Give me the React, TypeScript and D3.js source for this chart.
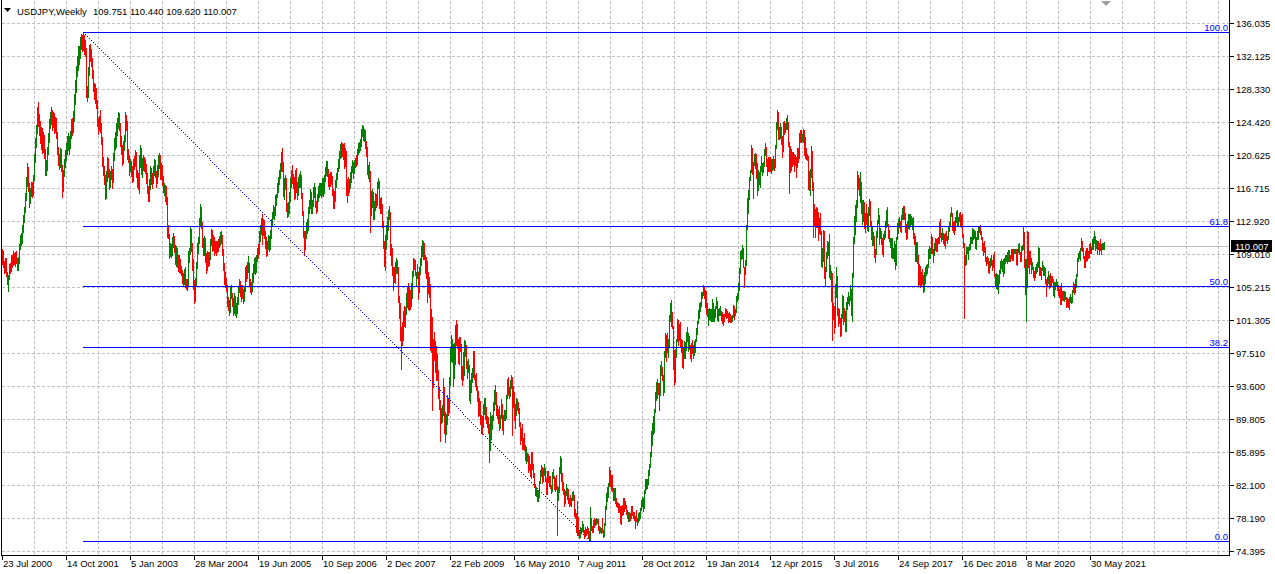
import React, { useMemo } from 'react';
import * as d3 from 'd3';

// Weekly USDJPY bars: [close, high, low]; open = previous close
type Bar = [number, number, number];

const firstOpen = 109.2;
const seriesStart = new Date(2000, 6, 23);

const y2000: Bar[] = [
[108.6,109.7,107.9],[108.0,109.4,107.5],[107.3,108.3,106.9],[108.2,108.6,107.0],[106.8,108.6,106.5],[105.8,107.0,105.6],[106.4,106.6,104.8],[107.6,107.9,106.1],[107.3,108.0,106.8],[108.4,108.9,107.1],
[108.0,108.9,107.6],[108.9,109.4,107.8],[108.4,109.2,107.9],[109.0,109.3,107.7],[108.3,109.4,108.0],[107.5,108.6,107.2],[108.2,108.7,107.2],[109.9,110.2,108.0],[111.0,111.3,109.6],[110.6,111.5,110.1],
[112.0,112.4,110.3],[113.2,113.6,111.6],[114.3,114.6,112.8],[115.8,116.2,114.0]];
const y2001: Bar[] = [
[117.2,118.0,115.4],[118.9,119.7,117.0],[116.9,119.2,116.4],[115.6,117.3,114.5],[116.2,116.8,115.0],[116.8,117.5,115.8],[116.4,117.5,115.7],[117.9,118.3,116.0],[120.3,120.8,117.7],[122.0,122.6,119.8],
[123.5,124.1,121.6],[125.6,126.2,123.2],[124.8,126.8,124.0],[123.7,125.4,123.0],[122.6,124.6,122.0],[123.4,123.9,121.3],[121.6,123.8,120.9],[122.8,123.3,121.0],[121.0,123.0,120.3],[118.9,121.3,118.3],
[119.2,120.0,118.3],[121.2,121.6,118.9],[122.6,123.2,120.8],[124.2,124.8,122.2],[124.9,125.6,123.8],[125.5,126.2,124.2],[124.2,125.9,123.6],[125.0,125.6,123.9],[123.7,125.5,123.2],[124.6,125.1,123.3],
[123.1,124.9,122.6],[121.2,123.3,120.7],[120.4,121.6,119.5],[119.4,120.8,119.0],[121.0,121.5,119.2],[119.2,121.3,118.8],[116.9,119.4,115.7],[118.4,118.9,116.4],[119.6,120.2,118.2],[120.6,121.2,119.2],
[121.5,122.0,120.0],[122.3,122.9,120.8],[122.5,123.2,121.2],[121.6,122.9,120.8],[122.9,123.4,121.4],[124.3,124.8,122.6],[123.6,125.0,123.0],[124.9,125.8,123.3],[127.2,127.7,124.6],[128.4,129.4,126.6],
[130.6,131.0,128.0],[131.5,132.2,129.9]];
const y2002: Bar[] = [
[132.6,133.4,130.6],[132.3,133.3,131.3],[133.8,134.4,131.9],[134.4,134.8,133.0],[133.6,134.6,132.8],[134.2,135.0,132.9],[133.9,134.6,132.4],[132.9,134.0,132.2],[128.0,133.1,127.4],[127.4,128.7,126.9],
[130.3,130.9,127.5],[132.7,133.5,130.0],[132.4,133.6,131.6],[131.6,133.0,131.0],[130.0,131.9,129.6],[128.6,130.5,128.1],[128.0,129.0,127.2],[128.2,128.9,126.7],[126.6,128.5,126.1],[124.5,127.0,124.0],
[123.9,125.0,123.1],[124.4,125.2,123.5],[124.0,125.9,123.3],[122.4,124.4,121.9],[119.6,122.7,119.3],[118.8,120.4,118.3],[118.0,119.3,117.2],[116.0,118.3,115.5],[118.2,118.8,115.6],[120.0,120.4,117.6],
[118.6,120.3,118.1],[117.2,119.0,116.6],[118.3,118.8,116.9],[118.8,119.3,117.8],[117.9,119.0,116.8],[120.4,120.9,117.5],[122.1,122.6,120.0],[122.6,123.3,121.3],[123.6,124.4,121.6],[124.5,124.9,123.0],
[125.0,125.6,123.8],[124.0,125.5,123.5],[122.2,124.4,121.7],[121.4,122.8,120.8],[120.0,121.8,119.4],[121.7,122.3,119.7],[122.5,123.0,121.2],[124.8,125.7,122.3],[124.1,125.3,123.5],[120.6,124.6,120.2],
[120.5,121.3,119.8],[118.8,120.6,118.3]];
const y2003: Bar[] = [
[119.6,120.2,118.7],[118.9,119.9,118.2],[118.0,119.3,117.5],[119.9,120.2,117.6],[119.6,120.5,119.0],[121.0,121.2,119.3],[118.4,121.0,118.0],[117.8,118.9,116.9],[117.0,118.5,116.6],[119.8,120.6,116.2],
[121.4,121.8,119.2],[118.9,121.4,118.4],[119.6,120.3,118.0],[120.0,120.6,118.9],[119.4,120.4,118.8],[118.9,120.2,118.5],[117.9,119.6,117.4],[116.9,118.5,116.2],[115.8,117.0,115.2],[117.3,117.8,115.3],
[118.9,119.3,116.6],[117.9,119.1,117.2],[117.4,118.5,116.8],[118.7,119.3,117.3],[119.8,120.2,118.3],[118.5,120.0,118.0],[117.6,118.8,116.9],[118.8,119.4,117.3],[119.9,120.6,118.2],[120.3,120.9,119.1],
[118.3,120.6,117.8],[119.2,119.7,117.8],[117.5,119.5,117.1],[116.7,118.2,116.3],[116.7,117.3,115.9],[116.4,117.1,115.3],[115.5,117.0,114.9],[111.6,115.7,111.1],[111.4,112.5,110.9],[109.1,111.3,108.6],
[109.8,110.4,108.8],[109.6,110.2,108.7],[110.2,111.0,108.9],[111.1,111.5,109.9],[109.8,111.2,109.3],[108.5,110.1,107.9],[109.7,110.0,107.7],[108.2,109.8,107.6],[107.9,108.9,107.1],[108.1,108.9,107.0],
[107.4,108.5,106.9],[106.9,107.7,106.6]];
const y2004: Bar[] = [
[106.2,107.2,105.7],[106.0,106.9,105.3],[106.9,107.3,105.6],[105.6,107.6,105.2],[105.4,106.1,105.0],[105.5,106.2,104.9],[109.0,109.4,105.4],[109.4,109.8,108.1],[111.5,112.2,109.1],[109.9,112.0,109.4],
[107.8,110.3,107.2],[105.6,108.5,105.0],[104.2,106.0,103.4],[105.7,106.3,103.6],[107.6,108.1,105.3],[109.8,110.3,107.4],[110.7,111.0,109.2],[112.8,113.3,110.4],[114.3,114.9,112.3],[112.6,114.6,112.1],
[110.4,112.8,109.9],[109.4,110.9,108.9],[110.6,111.2,108.9],[108.6,110.9,108.1],[107.4,109.2,106.9],[108.9,109.4,107.2],[108.4,109.3,107.7],[108.8,109.3,107.8],[110.4,110.8,108.5],[111.6,112.0,110.1],
[110.0,111.9,109.4],[110.9,111.3,109.5],[109.6,111.1,109.0],[109.9,110.6,109.2],[109.7,110.6,109.0],[110.2,110.6,109.3],[110.0,110.8,109.4],[110.8,111.2,109.9],[111.3,111.6,110.1],[110.9,111.7,110.3],
[109.5,111.3,108.9],[107.8,109.7,107.2],[106.2,108.0,105.6],[106.0,107.0,105.2],[105.3,106.3,104.8],[103.5,105.5,103.0],[103.2,104.0,102.5],[102.5,103.7,102.0],[104.6,105.3,102.3],[104.2,105.5,103.9],
[103.6,104.5,103.0],[102.7,103.9,101.9]];
const y2005: Bar[] = [
[104.1,104.5,102.2],[102.3,104.2,101.9],[102.6,103.4,101.7],[103.7,104.1,102.2],[104.9,105.3,103.2],[105.6,106.1,104.6],[104.6,105.9,104.2],[104.8,105.5,103.6],[104.3,105.4,103.9],[104.0,105.0,103.3],
[104.9,105.3,103.6],[107.4,107.6,104.7],[106.4,107.8,105.9],[107.5,108.1,106.3],[107.8,108.8,107.0],[106.0,108.0,105.5],[104.9,106.2,104.6],[105.0,105.8,104.4],[106.2,106.8,104.8],[107.4,107.9,105.8],
[108.2,108.6,106.9],[107.6,108.7,106.7],[108.4,108.9,107.0],[109.4,109.8,108.2],[109.3,110.2,108.6],[111.4,111.7,109.1],[112.1,112.5,110.6],[112.4,113.3,111.4],[111.9,113.7,110.2],[112.8,113.2,111.3],
[111.4,113.0,110.9],[110.3,111.8,109.8],[110.2,111.0,108.8],[109.9,110.6,109.0],[110.9,111.3,109.7],[109.9,111.2,109.4],[111.5,111.9,109.6],[112.7,113.1,110.9],[113.7,114.0,112.4],[113.9,114.8,113.3],
[114.0,114.6,113.2],[115.4,115.9,113.6],[115.8,116.1,114.8],[116.8,117.3,115.7],[117.6,118.1,116.3],[118.5,118.9,117.2],[119.2,119.7,117.9],[120.5,121.0,118.8],[119.2,121.4,118.8],[116.2,119.8,115.8],
[117.4,117.9,115.5],[117.8,118.3,116.7]];
const y2006: Bar[] = [
[114.4,117.9,114.1],[114.2,115.0,113.4],[114.6,115.1,113.5],[115.7,116.3,113.9],[117.5,117.9,115.2],[118.5,118.9,116.9],[117.8,119.4,117.3],[117.7,118.4,116.8],[115.9,118.1,115.5],[118.5,118.9,115.6],
[116.8,119.1,116.3],[116.4,117.5,115.5],[117.7,118.1,116.0],[117.6,118.4,116.9],[118.0,118.7,116.9],[116.0,118.3,115.6],[114.0,116.2,113.6],[111.6,114.1,111.0],[110.2,111.8,109.0],[111.3,111.7,109.6],
[112.3,112.8,110.9],[112.2,113.1,111.5],[114.2,114.6,111.9],[114.6,115.4,113.8],[116.1,116.6,114.4],[114.4,116.3,113.8],[114.9,115.4,113.9],[116.4,116.9,114.7],[116.4,117.4,115.7],[114.9,116.9,114.6],
[114.4,115.3,113.8],[115.7,116.1,114.1],[116.6,117.0,115.2],[116.6,117.3,115.7],[117.0,117.4,115.9],[116.2,117.4,115.7],[117.4,117.9,115.9],[116.3,117.9,115.8],[117.9,118.3,116.2],[118.8,119.2,117.6],
[119.6,119.9,118.3],[118.6,119.9,118.2],[117.5,119.0,117.0],[117.9,118.4,116.6],[117.7,118.6,117.0],[118.1,118.6,117.2],[116.4,118.2,116.0],[115.6,116.6,114.4],[115.5,116.4,114.4],[117.3,117.7,115.3],
[118.1,118.5,116.9],[118.8,119.1,117.8],[120.0,120.2,118.7]];
const y2007: Bar[] = [
[120.8,121.1,119.1],[121.0,121.9,120.3],[121.4,122.2,120.4],[121.2,122.0,120.5],[121.1,121.9,120.1],[119.5,122.0,119.1],[121.0,121.5,119.3],[116.4,121.1,115.9],[117.0,117.8,115.1],[116.5,118.1,116.0],
[117.4,117.8,116.3],[117.8,118.6,116.8],[118.9,119.3,117.5],[119.7,120.0,118.6],[118.6,119.8,117.9],[119.7,120.0,118.5],[120.0,120.3,119.2],[119.8,120.6,119.3],[121.0,121.3,119.6],[121.6,122.0,120.7],
[121.7,122.2,121.0],[121.8,122.5,121.2],[123.4,123.7,121.7],[123.8,124.1,122.9],[123.2,124.0,122.4],[123.2,123.7,122.3],[121.9,123.5,121.4],[121.4,122.3,120.5],[118.7,121.6,118.4],[118.9,119.5,117.9],
[118.5,119.8,117.6],[114.0,118.7,111.6],[115.9,116.4,113.6],[115.9,116.7,114.6],[113.6,116.3,113.1],[114.8,115.2,113.2],[115.5,116.2,114.2],[114.8,116.1,114.5],[117.3,117.5,114.9],[117.6,117.9,116.8],
[114.9,117.6,114.4],[114.6,115.6,113.9],[114.6,115.7,113.9],[112.7,114.9,112.2],[110.6,112.9,109.8],[108.2,110.6,107.7],[111.0,111.3,107.2],[111.6,112.4,109.6],[112.6,113.4,110.8],[113.5,114.2,111.9],
[113.8,114.7,113.1],[109.2,114.0,108.9]];
const y2008: Bar[] = [
[109.3,110.2,107.8],[106.9,109.8,106.6],[106.7,107.6,104.9],[106.6,107.5,105.8],[107.8,108.1,105.7],[108.2,108.6,106.9],[107.6,108.4,106.9],[103.7,107.6,103.5],[102.5,104.2,101.6],[99.7,103.4,99.0],
[99.7,100.5,95.7],[99.6,101.1,98.5],[101.8,102.4,99.0],[101.5,103.0,100.7],[102.5,102.9,100.6],[103.9,104.5,102.1],[105.2,105.3,102.9],[103.0,105.7,102.7],[104.6,105.2,102.5],[103.2,104.9,102.6],
[105.5,105.7,103.0],[106.9,107.1,103.9],[108.3,108.6,106.5],[107.7,108.5,107.3],[106.8,108.4,106.6],[106.9,107.0,105.5],[106.9,107.9,106.3],[104.8,107.0,103.8],[107.0,107.6,104.6],[108.0,108.6,106.7],
[109.4,110.0,107.8],[110.4,110.7,108.8],[110.4,110.6,108.5],[108.8,110.0,108.5],[107.9,108.9,106.9],[107.8,108.7,106.3],[106.9,108.3,103.5],[105.2,107.0,104.5],[105.4,106.4,104.0],[101.7,105.6,97.9],
[101.7,102.7,97.6],[94.0,101.4,90.9],[98.5,99.2,93.5],[98.1,100.0,96.7],[97.0,98.9,95.3],[95.6,98.3,94.4],[95.4,97.4,94.3],[93.2,95.5,92.3],[91.5,93.5,91.0],[89.8,92.0,87.2],
[90.3,91.1,89.3],[90.9,91.4,89.5]];
const y2009: Bar[] = [
[92.8,94.6,90.3],[90.2,93.5,88.2],[88.9,90.6,87.1],[89.8,90.4,88.0],[92.1,92.6,89.2],[90.9,92.2,90.3],[94.2,94.7,90.6],[97.7,98.2,93.8],[98.3,99.6,96.6],[98.3,99.2,96.5],
[94.6,98.6,93.6],[97.8,98.7,95.3],[100.4,100.8,96.2],[99.9,101.4,98.4],[99.0,100.9,98.1],[96.8,99.2,96.3],[98.9,99.4,96.2],[98.6,99.4,97.8],[95.2,98.5,94.5],[94.9,96.0,93.8],
[95.2,97.6,94.4],[98.5,99.0,95.0],[98.1,98.9,97.2],[96.3,98.4,95.8],[95.3,96.6,94.6],[95.8,96.8,95.3],[92.6,96.1,92.0],[94.0,94.4,91.7],[94.6,95.2,92.9],[95.4,95.8,94.1],
[97.5,97.8,94.7],[94.9,97.7,94.5],[94.4,95.0,93.6],[93.6,95.2,93.2],[93.0,93.7,91.9],[90.9,93.1,90.2],[91.2,92.2,90.3],[89.7,91.9,89.2],[89.8,90.3,88.2],[89.7,90.1,88.0],
[91.2,91.6,88.9],[92.0,92.3,90.4],[90.1,92.3,89.8],[89.9,91.2,89.3],[89.6,90.2,88.9],[88.9,90.0,88.2],[86.6,89.2,84.8],[90.0,90.6,86.2],[89.1,90.2,87.5],[89.9,90.3,88.6],
[91.5,91.8,89.7],[92.9,93.2,90.8]];
const y2010: Bar[] = [
[92.6,93.8,91.6],[90.7,92.9,90.3],[90.3,91.4,89.9],[89.8,91.0,89.3],[89.3,91.3,88.5],[89.9,90.3,88.8],[91.5,92.1,89.9],[89.2,91.5,88.5],[90.1,90.3,88.1],[90.4,90.8,89.7],
[90.2,90.9,89.7],[92.5,92.6,89.9],[94.2,94.5,92.3],[93.2,94.7,92.6],[92.6,93.5,92.2],[94.2,94.4,92.5],[94.0,94.9,93.4],[91.6,94.7,87.9],[92.6,93.6,91.2],[90.0,93.0,89.7],
[90.9,91.6,88.8],[91.9,92.3,90.3],[91.7,92.1,90.8],[90.7,91.8,90.5],[89.2,91.1,89.0],[87.8,89.4,86.9],[88.6,88.8,87.3],[86.7,89.2,86.3],[87.5,87.6,86.3],[86.5,88.2,86.2],
[85.4,86.8,85.0],[85.6,86.5,84.7],[85.6,85.8,84.9],[85.3,85.7,83.6],[84.3,85.5,83.8],[83.9,84.5,83.2],[85.9,85.9,82.9],[84.2,85.9,84.0],[83.3,84.5,83.0],[82.0,83.5,81.9],
[81.4,82.2,80.9],[81.4,81.9,80.8],[80.4,81.5,80.2],[81.3,81.5,80.2],[82.5,82.6,80.7],[83.6,83.8,82.3],[84.1,84.4,83.2],[82.6,84.2,82.3],[83.8,84.1,82.6],[84.0,84.5,83.3],
[82.8,84.1,82.6],[81.1,82.9,81.0]];
const y2011: Bar[] = [
[83.2,83.7,81.0],[82.9,83.7,82.4],[82.5,83.1,82.0],[82.1,83.2,81.8],[81.7,82.0,81.2],[83.4,83.6,81.4],[83.1,84.0,82.9],[81.7,83.2,81.6],[82.3,82.9,81.4],[81.9,83.3,81.6],
[80.6,82.0,76.3],[81.5,81.9,80.3],[84.0,84.2,81.3],[84.7,85.5,83.5],[83.0,85.3,82.6],[81.8,83.5,81.5],[81.2,82.4,81.0],[80.6,81.6,79.6],[81.0,81.4,80.0],[81.6,82.2,80.9],
[80.9,81.8,80.5],[80.3,81.6,80.0],[80.2,80.6,79.7],[80.0,80.9,79.8],[80.4,80.6,79.7],[80.7,81.3,80.3],[80.6,81.4,80.3],[79.1,80.9,78.5],[78.5,79.3,78.3],[76.8,78.8,76.6],
[78.4,80.2,76.3],[76.8,78.4,76.3],[76.5,76.9,75.9],[76.7,77.2,76.0],[76.8,77.1,76.5],[77.5,77.9,76.7],[76.8,77.5,76.6],[76.3,76.9,75.9],[77.0,77.2,76.1],[76.7,77.0,76.3],
[77.0,77.3,76.5],[76.7,77.1,75.9],[75.8,76.6,75.6],[78.0,79.5,75.56],[77.0,78.2,76.8],[76.9,77.3,76.6],[77.7,78.0,76.6],[77.6,78.3,77.2],[77.7,78.1,77.4],[77.8,78.2,77.5],
[78.0,78.1,77.7],[76.9,78.1,76.8]];
const y2012: Bar[] = [
[76.8,77.3,76.5],[76.9,77.2,76.6],[77.0,77.1,76.5],[76.7,78.3,76.6],[76.2,76.8,76.0],[77.5,77.7,76.2],[79.5,79.6,77.4],[81.2,81.2,79.3],[81.6,81.9,80.2],[82.0,82.3,80.7],
[83.4,84.2,82.0],[82.4,83.8,82.0],[82.9,83.3,81.5],[81.5,83.3,81.4],[80.8,81.8,80.3],[81.5,81.8,80.3],[80.3,81.7,80.0],[79.9,80.6,79.6],[79.9,80.1,79.5],[79.1,80.0,79.0],
[79.7,79.9,78.9],[78.4,79.7,77.7],[79.5,79.7,77.6],[78.7,79.8,78.6],[80.4,80.6,78.7],[79.8,80.6,79.1],[79.7,80.2,79.4],[78.9,79.8,78.7],[78.5,79.2,78.3],[78.5,78.9,77.9],
[78.4,78.9,77.9],[78.3,78.8,78.0],[79.6,79.7,78.2],[78.7,79.7,78.6],[78.3,78.9,78.2],[78.2,78.9,78.0],[78.4,78.5,77.1],[78.0,79.2,77.9],[77.9,78.2,77.4],[78.6,78.8,77.8],
[78.5,78.9,78.0],[79.3,79.4,78.3],[79.8,80.3,79.2],[80.4,80.7,79.6],[79.5,80.6,79.1],[81.3,81.5,79.4],[82.4,82.8,81.2],[82.5,82.8,81.6],[82.4,82.8,81.7],[83.5,83.9,82.2],
[84.3,84.6,83.3],[85.5,85.9,84.2],[88.1,88.4,85.8]];
const y2013: Bar[] = [
[89.2,89.3,86.8],[90.1,90.2,88.0],[90.8,91.0,88.3],[92.8,92.9,90.6],[93.6,94.1,92.0],[93.5,94.5,92.3],[93.4,94.0,92.7],[93.6,94.0,90.9],[96.0,96.1,92.6],[95.2,96.6,95.0],
[94.5,95.9,94.4],[94.2,94.9,92.6],[97.6,97.8,92.9],[99.6,99.9,97.0],[98.0,99.0,96.6],[98.0,99.9,97.6],[99.0,99.2,97.1],[101.6,101.9,98.2],[103.2,103.3,101.3],[101.0,103.7,100.7],
[100.5,102.3,100.4],[97.5,100.7,95.6],[94.1,97.9,93.8],[97.9,98.0,94.1],[99.1,99.2,97.1],[101.2,101.5,98.9],[99.6,101.4,98.5],[100.7,100.9,99.0],[98.3,101.1,98.2],[98.9,99.1,97.6],
[96.3,99.0,95.9],[97.6,98.2,95.8],[98.7,98.9,96.9],[98.1,98.8,96.9],[99.6,100.0,97.9],[99.4,100.6,98.9],[99.4,99.8,97.8],[98.3,99.5,98.0],[97.5,98.5,96.9],[98.6,98.7,96.6],
[97.7,99.0,97.5],[97.3,98.5,96.9],[98.6,98.9,97.3],[99.1,99.2,97.6],[100.2,100.4,98.9],[101.2,101.3,99.7],[102.4,102.5,101.0],[102.9,103.4,101.6],[103.2,103.5,102.4],[104.1,104.6,103.0],
[104.4,104.6,103.9],[104.9,105.4,104.3]];
const y2014: Bar[] = [
[104.2,105.2,103.9],[104.3,104.9,102.9],[102.3,104.8,102.1],[102.0,103.4,101.8],[102.3,102.7,100.8],[101.8,102.8,101.5],[102.5,102.7,101.4],[101.8,102.6,101.3],[103.3,103.8,101.2],[101.3,103.4,101.2],
[102.2,102.7,101.4],[102.8,103.0,101.7],[103.3,104.1,102.8],[101.6,103.6,101.4],[102.4,102.6,101.3],[102.2,102.8,102.0],[102.2,103.0,101.9],[101.9,102.4,101.4],[101.5,102.3,101.0],[101.9,102.1,100.8],
[101.8,102.1,101.3],[102.5,102.8,101.8],[102.0,102.7,101.6],[102.1,102.4,101.7],[101.4,102.2,101.1],[102.1,102.3,101.2],[101.3,102.0,101.1],[101.4,101.8,101.1],[101.8,101.9,101.2],[102.6,103.1,101.7],
[102.0,103.0,101.5],[102.4,102.6,101.9],[103.9,104.2,102.3],[104.1,104.5,103.6],[105.1,105.7,103.8],[107.4,107.4,104.9],[109.0,109.4,106.9],[109.3,109.5,108.5],[109.8,110.1,108.6],[107.6,109.2,107.5],
[106.9,107.4,105.2],[108.1,108.4,106.7],[112.3,112.5,107.8],[114.6,115.6,112.0],[116.3,116.5,113.8],[117.8,118.0,115.5],[118.6,118.9,117.7],[121.4,121.8,118.6],[118.7,121.5,118.4],[119.5,119.8,115.6],
[120.4,120.8,119.5],[120.4,120.9,119.1]];
const y2015: Bar[] = [
[118.5,120.8,117.9],[117.5,119.7,115.9],[117.7,118.9,116.5],[117.5,118.6,117.2],[119.1,119.3,116.9],[118.8,120.5,118.7],[119.0,119.7,118.3],[119.6,119.8,118.6],[120.8,121.3,119.3],[121.4,122.0,120.6],
[120.0,121.6,119.3],[119.1,120.1,118.3],[119.0,120.4,118.7],[120.2,120.4,118.8],[118.9,120.4,118.7],[118.9,120.1,118.5],[119.7,120.1,118.9],[119.8,120.5,119.0],[119.3,120.2,118.9],[121.5,121.8,119.2],
[124.1,124.5,121.4],[125.6,125.9,123.7],[123.4,125.1,122.5],[122.7,123.9,122.5],[123.9,124.4,122.6],[122.8,123.7,121.9],[121.1,122.8,120.4],[124.0,124.5,121.1],[123.8,124.6,123.1],[124.0,124.4,123.3],
[124.2,125.0,123.7],[124.3,125.3,123.7],[121.9,124.5,121.7],[121.7,122.1,116.2],[119.0,121.7,118.6],[120.6,121.3,118.9],[120.0,121.0,119.3],[120.6,121.0,119.6],[119.9,120.8,118.7],[120.2,120.6,119.5],
[119.5,120.4,118.1],[121.5,121.5,119.2],[120.6,121.5,119.8],[123.1,123.2,120.3],[122.6,123.6,122.1],[122.8,123.5,122.2],[122.8,123.1,122.3],[123.1,123.7,122.2],[121.0,123.5,120.6],[121.2,122.7,120.3],
[120.3,121.4,120.1],[120.2,120.7,120.0]];
const y2016: Bar[] = [
[117.3,120.5,116.7],[117.0,118.8,116.5],[118.8,119.0,115.9],[121.1,121.7,118.0],[116.9,121.0,116.5],[113.2,117.5,111.0],[112.6,114.9,112.3],[113.9,114.3,111.0],[113.8,114.6,112.2],[113.8,114.4,112.2],
[111.5,114.0,110.7],[113.0,113.3,111.5],[111.7,113.8,111.4],[108.1,111.8,107.7],[108.8,109.8,107.6],[111.8,111.9,108.2],[106.4,111.8,106.3],[107.1,107.5,105.5],[108.6,109.3,107.6],[110.2,110.6,108.7],
[110.2,110.5,108.9],[106.5,111.4,106.4],[107.0,107.8,106.2],[104.2,107.1,103.6],[102.2,106.8,99.0],[102.5,103.3,101.5],[100.6,103.0,99.9],[105.3,105.6,100.9],[106.1,107.5,104.1],[102.1,106.5,101.9],
[101.8,102.8,100.7],[101.3,102.7,101.0],[100.2,101.6,99.5],[101.8,102.1,99.6],[104.0,104.3,101.6],[102.6,104.2,100.9],[102.2,102.8,101.2],[101.0,102.4,100.1],[103.2,103.5,100.1],[103.6,104.1,102.6],
[104.2,104.6,103.3],[103.8,104.2,103.1],[104.7,105.5,103.7],[103.1,105.0,101.9],[106.7,106.9,101.2],[110.9,111.0,106.4],[113.2,113.5,110.3],[113.5,114.8,111.4],[115.2,115.4,112.9],[118.2,118.7,114.5],
[117.4,118.3,116.6],[116.9,117.9,116.0]];
const y2017: Bar[] = [
[117.0,118.6,115.1],[114.5,117.5,113.8],[114.6,115.4,112.6],[115.1,115.4,112.9],[112.6,115.0,112.1],[113.2,113.9,111.6],[112.9,114.9,112.6],[112.1,113.8,111.9],[114.0,114.6,111.7],[114.8,115.5,113.6],
[112.7,115.2,112.5],[111.3,112.9,110.8],[111.4,112.2,110.1],[111.1,111.6,110.1],[109.1,111.2,108.7],[109.1,109.6,108.1],[111.5,111.8,109.4],[112.7,113.0,111.1],[113.4,114.4,112.8],[111.3,113.6,110.2],
[111.3,112.1,110.9],[110.4,111.7,110.2],[110.3,110.9,109.1],[110.9,111.4,108.8],[111.3,111.8,110.8],[112.4,112.9,111.0],[113.9,114.2,112.2],[112.5,114.5,112.3],[111.1,112.6,110.9],[110.7,111.9,110.6],
[110.7,110.9,109.9],[109.2,110.9,108.7],[109.2,110.9,108.6],[109.4,109.8,108.6],[110.2,110.6,108.3],[107.8,110.2,107.3],[110.8,111.0,107.9],[112.0,112.7,110.8],[112.5,113.2,111.5],[112.6,113.4,112.2],
[112.1,112.9,111.7],[113.5,113.6,111.6],[113.7,114.4,113.1],[114.1,114.7,113.2],[113.5,114.7,113.1],[112.1,113.9,111.6],[111.5,112.6,110.8],[112.2,112.9,110.9],[113.5,113.7,112.1],[112.6,113.7,112.0],
[113.3,113.7,112.5],[112.7,113.5,112.6],[113.0,113.3,112.0]];
const y2018: Bar[] = [
[111.0,113.4,110.9],[110.8,111.5,110.2],[108.7,111.2,108.3],[110.2,110.5,108.3],[108.8,110.5,108.0],[106.3,108.9,105.5],[106.9,107.9,105.6],[105.5,107.7,105.2],[106.8,107.0,105.3],[105.9,107.3,105.6],
[104.7,106.6,104.6],[106.3,107.0,104.7],[107.4,107.5,105.7],[107.4,107.8,106.6],[107.6,107.9,106.9],[109.0,109.6,107.5],[109.1,110.0,108.6],[109.4,109.8,108.6],[110.8,111.4,109.2],[109.4,111.1,109.2],
[109.5,109.7,108.1],[109.5,110.3,108.9],[110.7,110.9,109.6],[110.0,110.8,109.4],[110.7,110.9,109.4],[110.5,111.1,110.3],[112.4,112.8,110.4],[111.4,113.2,111.0],[111.1,111.5,110.6],[111.2,112.1,110.8],
[110.8,111.5,110.4],[110.5,111.4,110.1],[111.2,111.5,109.8],[110.9,111.8,110.7],[111.1,111.2,110.4],[112.1,112.2,110.8],[112.6,112.8,111.8],[113.7,113.8,112.3],[113.7,114.6,113.5],[112.2,113.9,111.9],
[112.5,112.8,111.6],[111.9,112.9,111.4],[113.2,113.4,111.9],[113.8,114.1,112.8],[112.8,114.2,112.3],[113.0,113.4,112.3],[113.5,113.8,112.9],[112.7,114.0,112.3],[113.4,113.6,112.2],[111.2,113.7,111.0],
[110.3,111.4,109.9],[108.5,110.0,101.6]];
const y2019: Bar[] = [
[108.3,109.0,107.8],[109.8,109.9,107.9],[109.5,109.9,109.2],[109.5,109.9,108.5],[109.7,110.2,109.5],[110.5,111.1,109.8],[110.7,111.0,110.3],[111.9,112.1,110.4],[111.2,112.0,110.8],[111.5,111.9,110.9],
[109.9,111.7,109.8],[110.9,111.0,109.7],[111.7,111.8,110.8],[112.0,112.2,110.8],[111.9,112.2,111.6],[111.6,112.4,111.4],[111.1,111.7,110.8],[109.9,111.0,109.5],[110.1,110.3,109.0],[109.3,110.6,109.3],
[108.3,109.9,108.3],[108.2,108.7,107.8],[108.6,108.8,108.0],[107.3,108.6,107.0],[107.9,108.2,106.8],[108.5,108.6,107.5],[107.9,108.9,107.8],[107.7,108.4,107.2],[108.7,108.9,107.6],[106.6,109.3,106.5],
[105.7,106.7,105.3],[106.4,106.9,105.1],[105.4,106.7,105.0],[106.3,106.6,104.5],[106.9,107.2,105.7],[108.1,108.3,106.8],[107.6,108.5,107.4],[107.9,108.2,107.1],[106.9,108.5,106.5],[108.3,108.6,106.9],
[108.5,108.9,108.0],[108.7,108.9,108.2],[108.2,109.3,108.0],[109.2,109.5,108.2],[108.8,109.5,108.2],[108.7,109.0,108.3],[109.5,109.6,108.6],[108.6,109.7,108.4],[109.4,109.7,108.4],[109.4,109.7,109.2],
[109.4,109.6,109.2],[108.1,109.7,107.9]];
const y2020: Bar[] = [
[109.5,109.7,107.8],[110.1,110.2,109.3],[109.3,110.3,109.1],[108.4,109.3,108.3],[109.7,110.0,108.3],[109.8,110.1,109.5],[111.6,112.2,109.7],[107.9,111.5,107.5],[105.4,108.5,104.4],[107.9,108.5,101.2],
[110.8,111.7,105.2],[107.9,111.6,107.6],[108.5,109.4,106.9],[108.4,109.4,107.9],[107.5,108.6,106.9],[107.5,108.1,107.3],[106.9,107.5,106.4],[106.6,107.1,106.0],[107.1,107.5,106.4],[107.6,107.9,106.8],
[107.8,108.1,107.1],[109.6,109.9,107.5],[107.4,109.8,106.6],[106.9,107.6,106.6],[107.2,107.4,106.1],[107.5,108.2,107.2],[106.9,107.8,106.6],[107.0,107.5,106.6],[106.1,107.4,105.7],[105.8,106.1,104.2],
[105.9,106.4,105.3],[106.6,107.1,105.7],[105.8,106.6,105.1],[105.4,106.9,105.2],[106.2,106.5,105.6],[106.1,106.5,105.8],[104.6,106.0,104.3],[105.6,105.8,104.0],[105.3,105.8,105.0],[105.6,106.1,105.3],
[105.4,105.8,104.9],[104.7,105.5,104.3],[104.7,105.0,104.0],[103.4,105.3,103.2],[104.6,105.7,103.2],[103.9,104.8,103.7],[104.1,104.8,103.7],[104.2,104.7,103.6],[104.0,104.6,103.8],[103.3,104.1,102.9],
[103.6,103.9,103.0],[103.2,103.8,102.9]];
const y2021: Bar[] = [
[103.9,104.1,102.6],[103.9,104.4,103.5],[103.8,104.1,103.3],[104.7,104.9,103.5],[105.4,105.8,104.6],[104.9,105.6,104.4],[105.4,106.2,104.6],[106.6,106.7,105.2],[108.3,108.6,106.5],[109.0,109.2,108.3],
[108.9,109.4,108.6],[109.6,109.8,108.4],[110.6,110.9,109.5],[109.6,110.5,109.4],[108.8,109.8,108.6],[107.9,108.8,107.5],[109.3,109.4,107.5],[108.6,109.8,108.3],[109.4,109.8,108.4],[108.9,109.4,108.6],
[109.8,110.2,108.7],[109.5,110.3,109.2],[109.7,109.9,109.2],[110.2,110.8,109.6],[110.8,111.0,109.7],[111.1,111.7,110.4],[110.1,111.2,109.5],[110.1,110.7,109.8],[110.5,110.6,109.1],[109.7,110.6,109.6],
[110.2,110.4,109.1],[109.6,110.8,109.5],[109.8,110.2,109.1],[109.9,110.3,109.6],[109.751,110.4,109.6],[110.007,110.44,109.62]];

const yearSeries: [number, Bar[]][] = [
  [2000, y2000], [2001, y2001], [2002, y2002], [2003, y2003], [2004, y2004], [2005, y2005],
  [2006, y2006], [2007, y2007], [2008, y2008], [2009, y2009], [2010, y2010], [2011, y2011],
  [2012, y2012], [2013, y2013], [2014, y2014], [2015, y2015], [2016, y2016], [2017, y2017],
  [2018, y2018], [2019, y2019], [2020, y2020], [2021, y2021],
];

const priceTicks = [136.035, 132.125, 128.33, 124.42, 120.625, 116.715, 112.92, 109.01, 105.215, 101.305, 97.51, 93.6, 89.805, 85.895, 82.1, 78.19, 74.395];
const dateLabels = ["23 Jul 2000","14 Oct 2001","5 Jan 2003","28 Mar 2004","19 Jun 2005","10 Sep 2006","2 Dec 2007","22 Feb 2009","16 May 2010","7 Aug 2011","28 Oct 2012","19 Jan 2014","12 Apr 2015","3 Jul 2016","24 Sep 2017","16 Dec 2018","8 Mar 2020","30 May 2021"];
const fibLevels = [100, 61.8, 50, 38.2, 0];
const fibHigh = 135.0;
const fibHighBar = 81;
const fibLow = 75.56;
const fibLowBar = 588;
const symbolTitle = "USDJPY,Weekly";
const lastOHLC = ["109.751", "110.440", "109.620", "110.007"];
const lastPrice = 110.007;

const W = 1275, H = 574;
const FR = { left: 1, right: 1229, top: 0, bottom: 555 };
const FONT = "'Liberation Sans', Arial, sans-serif";
const BULL = "#008000", BEAR = "#ff0000", FIB = "#0000ff";

export default function App() {
  const bars = useMemo(() => {
    const out: { i: number; o: number; c: number; h: number; l: number }[] = [];
    let prev = firstOpen;
    for (const [yr, arr] of yearSeries) {
      const start = yr === 2000 ? 0 : d3.timeWeek.count(seriesStart, d3.timeWeek.ceil(new Date(yr, 0, 1)));
      arr.forEach(([c, h, l], k) => {
        const o = prev;
        out.push({ i: start + k, o, c, h: Math.max(h, o, c), l: Math.min(l, o, c) });
        prev = c;
      });
    }
    return out;
  }, []);

  const y = d3.scaleLinear().domain([74.395, 136.035]).range([551, 23]);
  const x = d3.scaleLinear().domain([0, 1]).range([2, 3]);

  const vGrid = d3.range(1, 39).map((k) => x(32 * k));
  const fibY = (lv: number) => y(fibLow + (fibHigh - fibLow) * lv / 100);
  const lastY = Math.round(y(lastPrice));

  // dotted trend line of the Fibonacci object, one dot every other step
  const x0 = x(fibHighBar), y0 = y(fibHigh), x1 = x(fibLowBar), y1 = y(fibLow);
  const steps = Math.round(Math.max(Math.abs(x1 - x0), Math.abs(y1 - y0)));
  const dots = d3.range(0, steps + 1, 2).map((s) => [
    Math.round(x0 + (x1 - x0) * s / steps),
    Math.round(y0 + (y1 - y0) * s / steps),
  ]);

  return (
    <svg width={W} height={H} style={{ position: 'absolute', left: 0, top: 0, display: 'block' }} fontFamily={FONT}>
      <rect x={0} y={0} width={W} height={H} fill="#ffffff" />
      {/* grid */}
      <g stroke="#c0c0c0" strokeDasharray="3,2" shapeRendering="crispEdges">
        {priceTicks.map((p) => (
          <line key={'h' + p} x1={FR.left + 1} x2={FR.right} y1={Math.round(y(p)) + 0.5} y2={Math.round(y(p)) + 0.5} />
        ))}
        {vGrid.map((gx) => (
          <line key={'v' + gx} x1={gx + 0.5} x2={gx + 0.5} y1={FR.top + 1} y2={FR.bottom} />
        ))}
      </g>
      {/* bid line */}
      <line x1={FR.left + 1} x2={FR.right} y1={lastY + 0.5} y2={lastY + 0.5} stroke="#c0c0c0" shapeRendering="crispEdges" />
      {/* candles */}
      <g shapeRendering="crispEdges">
        {bars.map((b) => {
          const top = Math.round(y(b.h));
          const bot = Math.round(y(b.l));
          return (
            <rect key={b.i} x={x(b.i)} y={top} width={1} height={Math.max(1, bot - top + 1)} fill={b.c >= b.o ? BULL : BEAR} />
          );
        })}
      </g>
      {/* fibonacci */}
      <g fill={FIB} shapeRendering="crispEdges">
        {dots.map(([dx, dy], k) => (
          <rect key={'d' + k} x={dx} y={dy} width={1} height={1} />
        ))}
      </g>
      {fibLevels.map((lv) => {
        const fy = Math.round(fibY(lv)) + 0.5;
        return (
          <g key={'f' + lv}>
            <line x1={x(fibHighBar)} x2={FR.right} y1={fy} y2={fy} stroke={FIB} shapeRendering="crispEdges" />
            <text x={FR.right - 1} y={fy - 2} fontSize={9.5} fill={FIB} textAnchor="end">{lv.toFixed(1)}</text>
          </g>
        );
      })}
      {/* frame */}
      <g stroke="#000" shapeRendering="crispEdges" fill="none">
        <line x1={FR.left + 0.5} x2={FR.left + 0.5} y1={FR.top} y2={FR.bottom + 0.5} />
        <line x1={FR.right + 0.5} x2={FR.right + 0.5} y1={FR.top} y2={FR.bottom + 0.5} />
        <line x1={FR.left} x2={FR.right + 1} y1={FR.bottom + 0.5} y2={FR.bottom + 0.5} />
      </g>
      {/* price axis */}
      {priceTicks.map((p) => {
        const py = Math.round(y(p));
        return (
          <g key={'p' + p}>
            <line x1={FR.right + 1} x2={FR.right + 5} y1={py + 0.5} y2={py + 0.5} stroke="#000" shapeRendering="crispEdges" />
            <text x={FR.right + 7} y={py + 3.5} fontSize={9.5} fill="#000">{p.toFixed(3)}</text>
          </g>
        );
      })}
      <rect x={FR.right + 2} y={lastY - 6} width={41} height={12} fill="#000" />
      <text x={FR.right + 6} y={lastY + 3.5} fontSize={9.5} fill="#fff">{lastPrice.toFixed(3)}</text>
      {/* time axis */}
      {dateLabels.map((d, k) => {
        const tx = x(64 * k);
        return (
          <g key={d}>
            <line x1={tx + 0.5} x2={tx + 0.5} y1={FR.bottom + 1} y2={FR.bottom + 5} stroke="#000" shapeRendering="crispEdges" />
            <text x={tx + 1} y={567} fontSize={9.5} fill="#000">{d}</text>
          </g>
        );
      })}
      {/* header */}
      <polygon points="4,8 11,8 7.5,12" fill="#000" />
      <text x={17} y={15} fontSize={9.5} fill="#000">{symbolTitle}</text>
      <text x={93} y={15} fontSize={9.5} fill="#000">{lastOHLC.join(' ')}</text>
      <polygon points="1101,1 1111,1 1106,6" fill="#a0a0a0" />
    </svg>
  );
}
